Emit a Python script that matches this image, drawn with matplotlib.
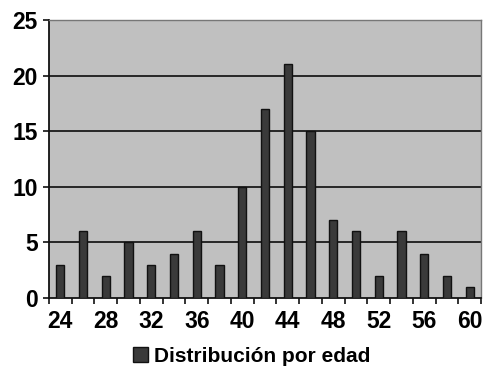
import matplotlib
matplotlib.use("Agg")
import matplotlib.pyplot as plt
import numpy as np

# Age distribution
ages = [24, 26, 28, 30, 32, 34, 36, 38, 40, 42, 44, 46, 48, 50, 52, 54, 56, 58, 60]
counts = [3, 6, 2, 5, 3, 4, 6, 3, 10, 17, 21, 15, 7, 6, 2, 6, 4, 2, 1]
series_label = "Distribución por edad"
y_ticks = [0, 5, 10, 15, 20, 25]

plt.rcParams['font.family'] = ['Liberation Sans', 'DejaVu Sans']
plt.rcParams['font.weight'] = 'bold'

fig = plt.figure(figsize=(4.85, 3.71), dpi=100)
ax = fig.add_axes([49/485, 1 - 298/371, 432/485, 278/371])
ax.set_facecolor('#c0c0c0')

x = np.arange(len(ages))
ax.bar(x, counts, width=0.36, color='#3a3a3a', edgecolor='#111111',
       linewidth=1.0, zorder=3, label=series_label)

ax.set_xlim(-0.5, len(ages) - 0.5)
ax.set_ylim(0, 25)
ax.set_yticks(y_ticks)
for v in y_ticks[1:-1]:
    ax.axhline(v, color='#1a1a1a', linewidth=1.3, zorder=2)

ax.set_xticks(x[::2])
ax.set_xticklabels([str(a) for a in ages[::2]])
ax.set_xticks(np.arange(-0.5, len(ages)), minor=True)
ax.tick_params(axis='x', which='major', length=0, pad=9, labelsize=16.5)
ax.tick_params(axis='x', which='minor', length=4, width=1.2, direction='out', color='#111111')
ax.tick_params(axis='y', length=4, width=1.2, pad=4, labelsize=16.5, color='#111111')

for side in ['left', 'bottom']:
    ax.spines[side].set_color('#111111')
    ax.spines[side].set_linewidth(1.3)
for side in ['top', 'right']:
    ax.spines[side].set_color('#777777')
    ax.spines[side].set_linewidth(1.0)

leg = fig.legend(loc='center', bbox_to_anchor=(252/485, 1 - 356/371), frameon=False,
                 fontsize=15, handlelength=0.7, handleheight=0.7, handletextpad=0.3)

fig.savefig('out.png', dpi=100, facecolor='white')
